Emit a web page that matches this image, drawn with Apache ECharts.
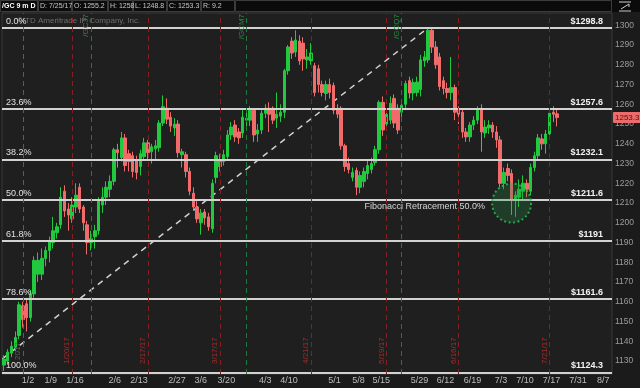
<!DOCTYPE html>
<html><head><meta charset="utf-8">
<script src="https://cdn.jsdelivr.net/npm/echarts@6/dist/echarts.min.js"></script>
<style>html,body{margin:0;padding:0;background:#1b1b1b;}#c{width:640px;height:388px;}</style>
</head><body><div id="c"></div>
<script>
// trading-day categories (12/15/2016 .. 8/14/2017)
const dates = [
 '12/15','12/16','12/19','12/20','12/21','12/22','12/23','12/27','12/28','12/29','12/30',
 '1/3','1/4','1/5','1/6','1/9','1/10','1/11','1/12','1/13','1/17','1/18','1/19','1/20','1/23','1/24','1/25','1/26','1/27','1/30','1/31',
 '2/1','2/2','2/3','2/6','2/7','2/8','2/9','2/10','2/13','2/14','2/15','2/16','2/17','2/21','2/22','2/23','2/24','2/27','2/28',
 '3/1','3/2','3/3','3/6','3/7','3/8','3/9','3/10','3/13','3/14','3/15','3/16','3/17','3/20','3/21','3/22','3/23','3/24','3/27','3/28','3/29','3/30','3/31',
 '4/3','4/4','4/5','4/6','4/7','4/10','4/11','4/12','4/13','4/17','4/18','4/19','4/20','4/21','4/24','4/25','4/26','4/27','4/28',
 '5/1','5/2','5/3','5/4','5/5','5/8','5/9','5/10','5/11','5/12','5/15','5/16','5/17','5/18','5/19','5/22','5/23','5/24','5/25','5/26','5/30','5/31',
 '6/1','6/2','6/5','6/6','6/7','6/8','6/9','6/12','6/13','6/14','6/15','6/16','6/19','6/20','6/21','6/22','6/23','6/26','6/27','6/28','6/29','6/30',
 '7/3','7/5','7/6','7/7','7/10','7/11','7/12','7/13','7/14','7/17','7/18','7/19','7/20','7/21','7/24','7/25',
 '7/26','7/27','7/28','7/31','8/1','8/2','8/3','8/4','8/7','8/8','8/9','8/10','8/11','8/14'
];
// [date, open, close, low, high]
const ohlc = [
 ['12/22',1128,1131,1125,1133],['12/23',1130,1134.5,1128,1136],['12/27',1134,1137.5,1132,1140],['12/28',1137,1142,1135,1145],
 ['12/29',1143,1158.5,1141,1160],['12/30',1158,1151,1147,1160],['1/3',1159,1152,1145,1162],['1/4',1152,1164,1150,1166],
 ['1/5',1164,1181,1162,1183],['1/6',1174,1181,1170,1185],['1/9',1174,1182,1171,1187],['1/10',1182,1186,1178,1188],
 ['1/11',1186,1191,1180,1193],['1/12',1190,1196,1187,1203],['1/13',1195,1198,1192,1200],['1/17',1199,1213,1197,1218],
 ['1/18',1216,1206,1203,1219],['1/19',1207,1204,1196,1210],['1/20',1202,1209,1200,1213],['1/23',1208,1214,1205,1220],
 ['1/24',1218,1207,1205,1220],['1/25',1208,1200,1196,1209],['1/26',1199,1190,1184,1201],['1/27',1190,1192,1186,1196],
 ['1/30',1193,1196,1187,1199],['1/31',1196,1211,1194,1213],
 ['2/1',1209,1213,1205,1218],['2/2',1213,1218,1209,1221],['2/3',1217,1221,1213,1224],['2/6',1221,1237,1219,1238],
 ['2/7',1237,1235.5,1228,1240],['2/8',1233,1243,1231,1246],['2/9',1243,1229,1226,1245],['2/10',1235,1231,1226,1237],
 ['2/13',1234,1226,1223,1236],['2/14',1232,1225.5,1222,1234],['2/15',1228.5,1235,1224,1237],['2/16',1233.5,1240.5,1232,1243],
 ['2/17',1240.5,1235.5,1232,1242],['2/21',1236,1238.5,1230,1240],['2/22',1237.5,1239,1232,1242],['2/23',1238,1250.5,1236,1252],
 ['2/24',1250.5,1258.8,1249,1264.5],['2/27',1258,1252.5,1250,1263],['2/28',1253.5,1249,1246,1256],
 ['3/1',1248,1250,1244,1253],['3/2',1250,1235.5,1233,1252],['3/3',1234.5,1236,1228,1237.5],['3/6',1234.5,1226,1223,1236],
 ['3/7',1226,1216,1214,1228],['3/8',1215,1208,1206,1218],['3/9',1208,1202,1200,1211],['3/10',1200,1205,1194,1207],
 ['3/13',1205.5,1202.5,1199,1207],['3/14',1203,1198,1196,1205],['3/15',1197,1220,1195,1222],['3/16',1223,1234,1220,1236],
 ['3/17',1228.5,1231.5,1226,1235],['3/20',1231,1234.5,1229,1237],['3/21',1233.5,1244.5,1232,1247],['3/22',1244.5,1248.5,1242,1251],
 ['3/23',1249.5,1243.5,1241,1252],['3/24',1246,1243,1240,1248],['3/27',1245.5,1253.5,1243,1257],['3/28',1252,1253,1249,1256],
 ['3/29',1252,1257,1249,1259],['3/30',1257,1244.5,1241,1258],['3/31',1245,1247,1241,1250],
 ['4/3',1247,1255.5,1245,1257],['4/4',1255.5,1258,1253,1260],['4/5',1258,1255,1246,1261],['4/6',1258,1252,1250,1259],
 ['4/7',1253,1255,1248,1266],['4/10',1254,1256,1251,1260],['4/11',1256,1277,1253,1278],['4/12',1277,1289,1275,1290],
 ['4/13',1292,1286,1283,1294],['4/17',1286.5,1292.5,1284,1297.5],['4/18',1292,1282,1280,1295],['4/19',1291,1283,1277,1294],
 ['4/20',1282.5,1284,1278,1288],['4/21',1282,1286,1280,1291],['4/24',1279.5,1266,1264,1281],['4/25',1278,1270,1266,1280],
 ['4/26',1270,1266,1264,1272],['4/27',1265.5,1270,1262,1272],['4/28',1270,1266,1263,1273],
 ['5/1',1269.5,1257,1255,1271],['5/2',1258,1255,1253,1260],['5/3',1258,1239,1237,1259],['5/4',1239,1228.5,1226,1240],
 ['5/5',1230,1227,1225,1233],['5/8',1223,1225.5,1221,1228],['5/9',1226.5,1218,1214,1228],['5/10',1218,1224,1215,1226],
 ['5/11',1221,1226,1218,1228],['5/12',1225,1229,1222,1232],['5/15',1227,1230,1225,1233],['5/16',1230.5,1237,1229,1239],
 ['5/17',1237,1261,1235,1262],['5/18',1261,1247,1244,1264],['5/19',1250,1255,1247,1257],['5/22',1252,1260.5,1250,1264],
 ['5/23',1263,1250.5,1248,1265],['5/24',1258,1247,1245,1260],['5/25',1256,1259.5,1252,1262],['5/26',1260,1270.5,1258,1272],
 ['5/30',1272,1265.7,1263,1274],['5/31',1265.7,1271,1262,1273],
 ['6/1',1266,1271.3,1264,1274],['6/2',1267.5,1282.5,1264,1285],['6/5',1282,1284,1279,1287],['6/6',1282.5,1297.5,1281,1298.8],
 ['6/7',1297.5,1289,1286,1298.5],['6/8',1289,1280,1278,1292],['6/9',1284,1269,1267,1286],['6/12',1272,1268,1265,1274],
 ['6/13',1268,1266,1263,1271],['6/14',1266,1268.5,1262,1284],['6/15',1268.5,1256,1252,1270],['6/16',1257.5,1255,1250,1259],
 ['6/19',1256,1246,1243,1258],['6/20',1246,1243.5,1241,1248],['6/21',1243.5,1249.5,1241,1251],['6/22',1249.5,1252,1247,1254],
 ['6/23',1252,1257,1250,1259],['6/26',1258,1246,1236,1260],['6/27',1245.5,1248.5,1243,1252],['6/28',1248,1249.5,1245,1252],
 ['6/29',1249.5,1246,1243,1251],['6/30',1246,1242,1238,1249],
 ['7/3',1242,1220,1218,1244],['7/5',1220,1225.5,1217,1228],['7/6',1227.5,1224,1221,1230],['7/7',1225,1212,1204,1227],
 ['7/10',1211.5,1214,1203,1216],['7/11',1213,1217,1208,1222],['7/12',1216,1220,1212,1224],['7/13',1220,1217,1213,1222],
 ['7/14',1216,1228,1214,1230],['7/17',1228,1234,1226,1236],['7/18',1234,1243,1232,1245],['7/19',1242.5,1240,1237,1245],
 ['7/20',1240,1245,1235,1247],['7/21',1245,1255.5,1243,1257],['7/24',1256,1255,1251,1259],['7/25',1255.2,1253.3,1248.8,1258]
];
const lastPrice = 1253.3;
// Fibonacci drawing: swing low / swing high
const swingLow = ['12/15', 1124.3];
const swingHigh = ['6/6', 1298.8];
const fibPct = ['0.0%','23.6%','38.2%','50.0%','61.8%','78.6%','100.0%'];
const fibLevels = [1298.8, 1257.6, 1232.1, 1211.6, 1191, 1161.6, 1124.3];
// vertical event lines
const expiryDates = ['1/20','2/17','3/17','4/21','5/19','6/16','7/21'];
const expiryText = ['1/20/17','2/17/17','3/17/17','4/21/17','5/19/17','6/16/17','7/21/17'];
const rollDates = ['1/27','3/28','5/25'];
const rollText = ['/GCJ7','/GCM7','/GCQ7'];
const yearDate = '12/30';
const yearText = '2017';
// highlight
const circlePoint = ['7/7', 1210];
const notePoint = ['6/27', 1208.3];
const noteText = 'Fibonacci Retracement 50.0%';
// axis tick labels
const yTicks = [1130,1140,1150,1160,1170,1180,1190,1200,1210,1220,1230,1240,1250,1260,1270,1280,1290,1300];
const xTickText = ['1/2','1/9','1/16','2/6','2/13','2/27','3/6','3/20','4/3','4/10','5/1','5/8','5/15','5/29','6/12','6/19','7/3','7/10','7/17','7/31','8/7'];
const xTickSlot = [11.35,17.34,23.74,34.28,40.69,50.7,56.95,63.72,74.0,80.22,92.27,98.6,104.58,114.67,121.53,128.7,136.2,142.53,149.54,156.5,163.17];
// header
const header = ['/GC 9 m D','D: 7/25/17','O: 1255.2','H: 1258','L: 1248.8','C: 1253.3','R: 9.2'];

const UP = '#22c93f', DOWN = '#f26b6b';
const FONT = 'Liberation Sans';
const CLEAR = 'rgba(0,0,0,0)';
const byDate = {}; ohlc.forEach(r => byDate[r[0]] = r.slice(1));
const candleData = dates.map(d => byDate[d] || '-');
const firstIdx = dates.indexOf(ohlc[0][0]);
const lastIdx = dates.length - 1;

const chart = echarts.init(document.getElementById('c'), null, {renderer:'canvas'});

// header graphics
const hdrW = [38,34,36,25,34,34,34];
const graphics = [{type:'rect', shape:{x:0,y:0,width:640,height:12}, style:{fill:'#0b0b0b'}, z:10}];
let hx = 0;
header.forEach((t,i) => {
  graphics.push({type:'rect', shape:{x:hx+0.5,y:0.5,width:hdrW[i]-1,height:11}, style:{fill:'#0b0b0b', stroke:'#3c3c3c', lineWidth:1}, z:11});
  graphics.push({type:'text', x:hx+2, y:6.5, style:{text:t, fill: i===0?'#ffffff':'#c8c8c8', font:(i===0?'bold ':'')+'7px '+FONT, verticalAlign:'middle'}, z:12});
  hx += hdrW[i];
});
graphics.push({type:'rect', shape:{x:hx+0.5,y:0.5,width:612-hx-1,height:11}, style:{fill:'#0b0b0b', stroke:'#3c3c3c', lineWidth:1}, z:11});
graphics.push({type:'polyline', shape:{points:[[619,2],[631,2]]}, style:{stroke:'#cfcfcf', lineWidth:1}, z:12});
graphics.push({type:'polyline', shape:{points:[[621,9],[629,4],[629,7]]}, style:{stroke:'#cfcfcf', lineWidth:1, fill:null}, z:12});
graphics.push({type:'polyline', shape:{points:[[619,11],[631,11]]}, style:{stroke:'#cfcfcf', lineWidth:1}, z:12});
graphics.push({type:'text', x:17, y:21, style:{text:'\u00a9 TD Ameritrade IP Company, Inc.', fill:'#6e6e6e', font:'8px '+FONT, verticalAlign:'middle'}, z:5});

const option = {
  backgroundColor:'#1b1b1b',
  animation:false,
  textStyle:{fontFamily:FONT},
  graphic: graphics,
  grid:{left:2, right:28, top:13, bottom:14, show:true, backgroundColor:'#1f1f1f', borderColor:'#3a3a3a', borderWidth:1},
  xAxis:[
    {type:'category', data:dates, min:firstIdx, max:lastIdx, boundaryGap:true,
     axisLine:{show:false}, axisTick:{show:false}, axisLabel:{show:false}, splitLine:{show:false}},
    {type:'value', min:firstIdx-0.5, max:lastIdx+0.5, position:'bottom',
     axisLine:{show:false}, axisTick:{show:false}, splitLine:{show:false},
     axisLabel:{customValues:xTickSlot, color:'#bdbdbd', fontSize:9, margin:2,
       formatter:v => { let b=0; xTickSlot.forEach((s,i)=>{ if(Math.abs(s-v)<Math.abs(xTickSlot[b]-v)) b=i; }); return xTickText[b]; }}}
  ],
  yAxis:{type:'value', position:'right', min:1123.46, max:1306.24, scale:true,
    axisLine:{show:false}, axisTick:{show:false}, splitLine:{show:false},
    axisLabel:{customValues:yTicks, color:'#9c9c9c', fontSize:8.5, margin:3, align:'left', formatter:v => String(Math.round(v))}},
  series:[
    {type:'line', name:'fib', data:[swingLow, swingHigh], symbol:'none', clip:true, z:3,
     lineStyle:{color:'#d0d0d0', width:1.5, type:[6,5]}, silent:true,
     markLine:{symbol:'none', silent:true, animation:false,
       lineStyle:{color:'#d2d2d2', width:2, type:'solid'},
       label:{position:'insideStartTop', color:'#e0e0e0', fontSize:9, distance:[4,2], fontFamily:FONT},
       data: fibLevels.map((v,i)=>({yAxis:v, label:{formatter:fibPct[i]}}))}},
    {type:'line', name:'fibPrice', data:[], z:3,
     markLine:{symbol:'none', silent:true, animation:false,
       lineStyle:{color:CLEAR, width:1, type:'solid'},
       label:{show:true, position:'insideEndTop', color:'#f2f2f2', fontSize:9, fontWeight:'bold', distance:[9,2], fontFamily:FONT},
       data: fibLevels.map(v=>({yAxis:v, label:{formatter:'$'+v}}))}},
    {type:'line', name:'events', data:[], z:2,
     markLine:{symbol:'none', silent:true, animation:false,
       data: expiryDates.map((d,i)=>({xAxis:d, lineStyle:{color:'#861f1f', width:1, type:[5,4]},
               label:{formatter:expiryText[i], position:'insideStartTop', color:'#a02b2b', fontSize:8, distance:[10,1]}}))
         .concat(rollDates.map((d,i)=>({xAxis:d, lineStyle:{color:'#1e7a3d', width:1, type:[5,4]},
               label:{formatter:rollText[i], position:'insideEndTop', color:'#25893f', fontSize:8, distance:[1,1]}})))
         .concat([{xAxis:yearDate, lineStyle:{color:'#5c5c5c', width:1, type:[5,4]},
               label:{formatter:yearText, position:'insideStartTop', color:'#5c5c5c', fontSize:8, distance:[14,1]}}])}},
    {type:'candlestick', name:'/GC', data:candleData, barWidth:3, z:4,
     itemStyle:{color:UP, color0:DOWN, borderColor:UP, borderColor0:DOWN, borderWidth:1},
     markLine:{symbol:'none', silent:true, animation:false,
       lineStyle:{color:CLEAR, width:1, type:'solid'},
       label:{show:true, position:'end', formatter:String(lastPrice), backgroundColor:'#ee6b6b', color:'#5a0d0d', fontSize:8, padding:[2,2,1,2], distance:1, borderRadius:1},
       data:[{yAxis:lastPrice}]}},
    {type:'scatter', name:'zone', data:[circlePoint], symbol:'circle', symbolSize:39, z:5, silent:true,
     itemStyle:{color:'rgba(34,140,64,0.35)', borderColor:'#27c452', borderWidth:2, borderType:[2,2.5]}},
    {type:'scatter', name:'note', data:[notePoint], symbolSize:0, z:6, silent:true,
     label:{show:true, position:'left', distance:0, formatter:noteText, color:'#ffffff', fontSize:9, fontFamily:FONT}}
  ]
};
chart.setOption(option);
</script></body></html>
